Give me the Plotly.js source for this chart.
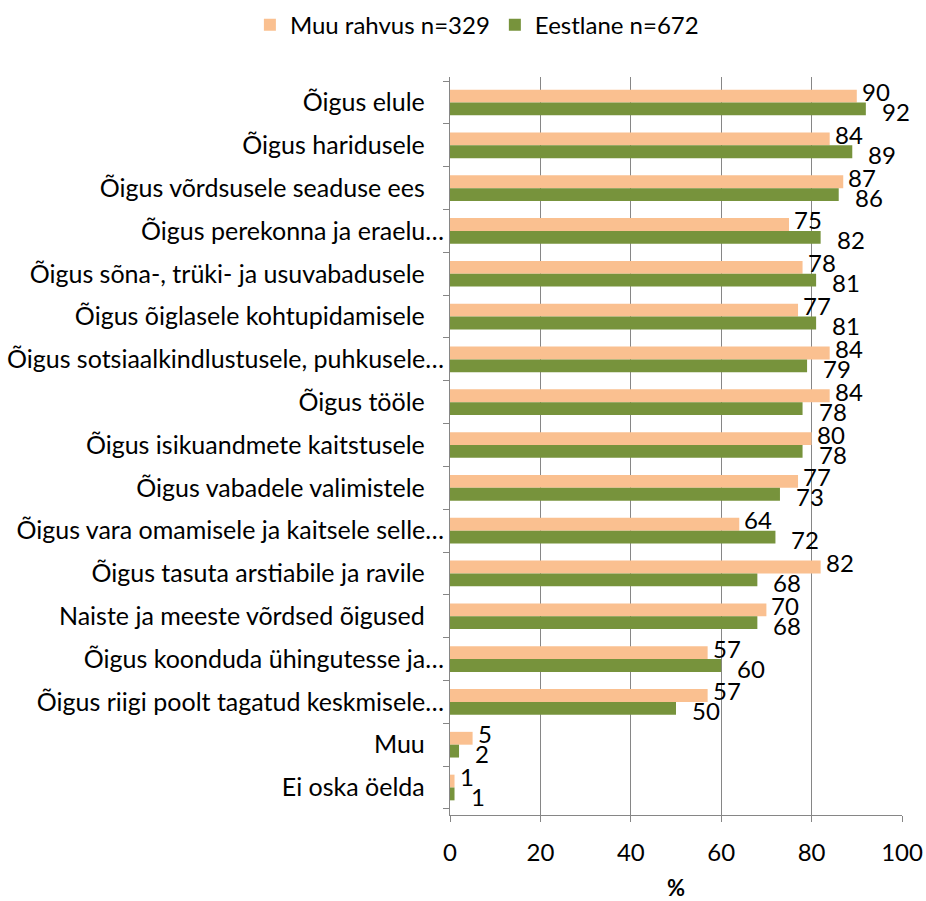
<!DOCTYPE html>
<html>
<head>
<meta charset="utf-8">
<script src="https://cdn.plot.ly/plotly-3.0.1.min.js"></script>
<style>html,body{margin:0;padding:0;background:#fff;}#chart{width:926px;height:901px;}</style>
</head>
<body>
<div id="chart"></div>
<script>
const categories = [
  "Õigus elule",
  "Õigus haridusele",
  "Õigus võrdsusele seaduse ees",
  "Õigus perekonna ja eraelu…",
  "Õigus sõna-, trüki- ja usuvabadusele",
  "Õigus õiglasele kohtupidamisele",
  "Õigus sotsiaalkindlustusele, puhkusele…",
  "Õigus tööle",
  "Õigus isikuandmete kaitstusele",
  "Õigus vabadele valimistele",
  "Õigus vara omamisele ja kaitsele selle…",
  "Õigus tasuta arstiabile ja ravile",
  "Naiste ja meeste võrdsed õigused",
  "Õigus koonduda ühingutesse ja…",
  "Õigus riigi poolt tagatud keskmisele…",
  "Muu",
  "Ei oska öelda"
];
const muuRahvus = [90, 84, 87, 75, 78, 77, 84, 84, 80, 77, 64, 82, 70, 57, 57, 5, 1];
const eestlane  = [92, 89, 86, 82, 81, 81, 79, 78, 78, 73, 72, 68, 68, 60, 50, 2, 1];
const xTicks = [0, 20, 40, 60, 80, 100];

const fontFam = "Lato, 'Open Sans', 'Liberation Sans', sans-serif";
const FS = 24;

// labels not truncated carry a trailing space in the original
const tickText = categories.map(c => c.endsWith("…") ? c : c + "\u00a0\u00a0\u00a0");

const traces = [
  {
    type: "bar", orientation: "h", name: "Muu rahvus n=329",
    y: categories, x: muuRahvus,
    marker: {color: "#FAC090"}
  },
  {
    type: "bar", orientation: "h", name: "Eestlane n=672",
    y: categories, x: eestlane,
    marker: {color: "#77933C"}
  }
];

// data labels, placed from the data values through the axes
const annotations = [];
categories.forEach((c, i) => {
  annotations.push({x: muuRahvus[i], y: c, xref: "x", yref: "y", text: String(muuRahvus[i]),
    showarrow: false, xanchor: "left", yanchor: "middle", xshift: 3, yshift: 11,
    font: {family: fontFam, size: FS, color: "#000"}});
  annotations.push({x: eestlane[i], y: c, xref: "x", yref: "y", text: String(eestlane[i]),
    showarrow: false, xanchor: "left", yanchor: "middle", xshift: 14, yshift: -9,
    font: {family: fontFam, size: FS, color: "#000"}});
});

const layout = {
  width: 926, height: 901,
  paper_bgcolor: "#fff", plot_bgcolor: "#fff",
  margin: {l: 450, r: 24, t: 77, b: 86},
  barmode: "group", bargap: 0.4, bargroupgap: 0,
  font: {family: fontFam, size: FS, color: "#000"},
  showlegend: true,
  legend: {orientation: "h", x: 0.515, xanchor: "center", xref: "container",
           y: 0.997, yanchor: "top", yref: "container",
           font: {family: fontFam, size: FS, color: "#000"},
           traceorder: "normal", itemwidth: 30},
  annotations: annotations,
  xaxis: {
    range: [0, 100], tickvals: xTicks, ticktext: xTicks.map(String),
    showgrid: true, gridcolor: "#868686", gridwidth: 1,
    showline: true, linecolor: "#868686", linewidth: 1,
    ticks: "outside", ticklen: 6, tickcolor: "#868686",
    ticklabelstandoff: 10,
    zeroline: false,
    tickfont: {family: fontFam, size: FS, color: "#000"},
    title: {text: "<b>%</b>", font: {family: fontFam, size: FS - 2, color: "#000"}, standoff: 16}
  },
  yaxis: {
    type: "category", autorange: "reversed",
    tickvals: categories, ticktext: tickText,
    showline: true, linecolor: "#868686", linewidth: 1,
    ticks: "outside", ticklen: 6, tickcolor: "#868686", tickson: "boundaries",
    showgrid: false, zeroline: false,
    tickfont: {family: fontFam, size: 25, color: "#000"},
    automargin: false
  }
};

Plotly.newPlot("chart", traces, layout, {displayModeBar: false, staticPlot: true});
</script>
</body>
</html>
